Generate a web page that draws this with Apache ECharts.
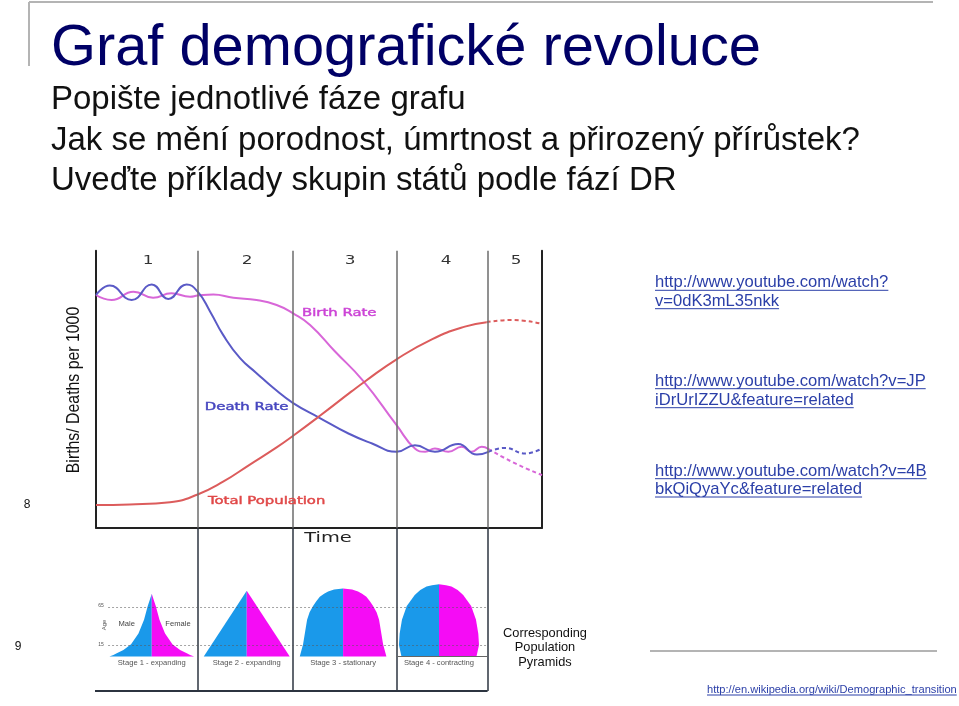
<!DOCTYPE html>
<html><head><meta charset="utf-8">
<script src="https://cdn.jsdelivr.net/npm/echarts@6/dist/echarts.min.js"></script>
<style>html,body{margin:0;padding:0;background:#fff}#c{width:959px;height:706px}</style>
</head><body><div id="c"></div>
<script>
// ---------- data (time 0..100, rate per 1000 0..50) ----------
const stageNames = ['1', '2', '3', '4', '5'];
const stageCenters = [11.7, 33.9, 57.0, 78.5, 94.2];
const stageBounds = [22.8, 44.2, 67.4, 87.8];

const timeBirth = [0, 3.5, 8.4, 12.8, 16.9, 21.1, 22.8, 26.3, 30.8, 36.0, 40.5, 44.2, 48.0, 53.6, 59.9, 67.4, 71.5, 73.8, 76.0, 79.0, 82.0, 84.2, 86.5, 88.0];
const birthRate = [42.0, 41.1, 42.6, 41.5, 42.3, 41.7, 41.9, 42.1, 41.5, 41.1, 40.2, 38.7, 36.6, 31.8, 26.5, 18.5, 14.3, 13.7, 14.3, 13.7, 14.6, 13.7, 14.6, 14.2];
const timeBirthProj = [88.0, 94.0, 100];
const birthRateProj = [14.2, 11.6, 9.5];

const timeDeath = [0, 3.1, 8.0, 12.5, 16.2, 20.3, 22.8, 25.6, 28.5, 32.3, 36.0, 39.8, 44.2, 50.2, 56.6, 61.9, 67.4, 71.5, 76.0, 81.2, 85.4, 88.0];
const deathRate = [42.0, 43.7, 41.1, 43.9, 41.3, 43.9, 42.6, 39.0, 34.8, 30.6, 27.9, 25.2, 22.5, 19.8, 17.0, 15.2, 13.7, 14.9, 13.7, 15.1, 13.2, 13.7];
const timeDeathProj = [88.0, 91.7, 96.2, 100];
const deathRateProj = [13.7, 14.4, 13.4, 14.3];

const timePop = [0, 7.6, 16.6, 22.8, 28.5, 34.5, 40.5, 44.2, 50.2, 57.3, 60.3, 67.4, 75.3, 82.7, 87.6];
const population = [4.1, 4.2, 4.6, 6.0, 8.3, 11.4, 14.5, 16.6, 20.2, 24.6, 26.4, 30.4, 34.0, 36.3, 37.1];
const timePopProj = [87.6, 93.2, 100];
const populationProj = [37.1, 37.5, 36.8];

const curveLabels = ['Birth Rate', 'Death Rate', 'Total Population'];
const curveLabelX = [46.2, 24.4, 25.1];
const curveLabelY = [38.75, 21.7, 4.8];

const pyramidStages = ['Stage 1 - expanding', 'Stage 2 - expanding', 'Stage 3 - stationary', 'Stage 4 - contracting'];
const pyramidCenters = [12.5, 33.8, 55.4, 76.9];
const pyramidAges = [
  [0, 2.2, 4.4, 8.7, 16, 30, 48, 66, 74, 82],
  [0, 86],
  [0, 16, 32, 48, 58, 66, 72, 78, 82, 85, 87.5, 89],
  [0, 15, 30, 48, 66, 80.5, 87, 91.4, 93.3, 94.4]
];
const pyramidHalfWidth = [
  [9.5, 8.6, 7.85, 6.35, 4.64, 2.98, 1.73, 0.9, 0.45, 0],
  [9.64, 0],
  [9.71, 8.97, 8.52, 8.07, 7.51, 6.73, 6.05, 5.22, 4.26, 3.36, 2.02, 0],
  [8.41, 8.97, 8.81, 8.30, 7.22, 5.43, 4.19, 2.80, 1.57, 0]
];
const ageGuides = [15, 65];

const titleText = 'Graf demografické revoluce';
const questions = ['Popište jednotlivé fáze grafu', 'Jak se mění porodnost, úmrtnost a přirozený přírůstek?', 'Uveďte příklady skupin států podle fází DR'];
const links = [
  ['http://www.youtube.com/watch?', 'v=0dK3mL35nkk'],
  ['http://www.youtube.com/watch?v=JP', 'iDrUrIZZU&feature=related'],
  ['http://www.youtube.com/watch?v=4B', 'bkQiQyaYc&feature=related']
];
const wikiLink = 'http://en.wikipedia.org/wiki/Demographic_transition';

// ---------- helpers ----------
const zip = (a, b) => a.map((v, i) => [v, b[i]]);
const mctx = document.createElement('canvas').getContext('2d');
function tw(text, font) { mctx.font = font; return mctx.measureText(text).width; }

const C_BIRTH = '#d867d8', C_DEATH = '#5a5ac6', C_POP = '#dc5c5c';
const labelColors = ['#cc44d6', '#4646bf', '#e04848'];
const SANS = '"Liberation Sans", Arial, sans-serif';
const VERD = '"DejaVu Sans", Verdana, sans-serif';

// ---------- graphic (slide texts) ----------
const g = [];
g.push({ type: 'line', shape: { x1: 29, y1: 2, x2: 933, y2: 2 }, style: { stroke: '#b4b4b4', lineWidth: 2 } });
g.push({ type: 'line', shape: { x1: 29, y1: 2, x2: 29, y2: 66 }, style: { stroke: '#b4b4b4', lineWidth: 2 } });
g.push({ type: 'text', x: 51, y: 68.8 - 0.3465 * 57.8, style: { text: titleText, font: '57.8px ' + SANS, fill: '#000066', align: 'left', verticalAlign: 'middle' } });
const qBase = [111.5, 152.3, 192.5];
questions.forEach((q, i) => {
  g.push({ type: 'text', x: 51, y: qBase[i] - 0.3465 * 33, style: { text: q, font: '33px ' + SANS, fill: '#111111', align: 'left', verticalAlign: 'middle' } });
});
const linkBase = [[288.3, 306.7], [386.7, 405.7], [476.7, 495]];
const LF = '16.6px ' + SANS;
links.forEach((pair, i) => {
  pair.forEach((t, j) => {
    const b = linkBase[i][j];
    g.push({ type: 'text', x: 655, y: b - 0.3465 * 16.6, style: { text: t, font: LF, fill: '#2b3fa8', align: 'left', verticalAlign: 'middle' } });
    g.push({ type: 'line', shape: { x1: 655, y1: b + 2, x2: 655 + tw(t, LF), y2: b + 2 }, style: { stroke: '#2b3fa8', lineWidth: 1 } });
  });
});
g.push({ type: 'line', shape: { x1: 650, y1: 651, x2: 937, y2: 651 }, style: { stroke: '#b4b4b4', lineWidth: 2 } });
const WF = '11.1px ' + SANS;
g.push({ type: 'text', x: 707, y: 693.3 - 0.3465 * 11.1, style: { text: wikiLink, font: WF, fill: '#2b3fa8', align: 'left', verticalAlign: 'middle' } });
g.push({ type: 'line', shape: { x1: 707, y1: 695, x2: 707 + tw(wikiLink, WF), y2: 695 }, style: { stroke: '#2b3fa8', lineWidth: 1 } });
g.push({ type: 'text', x: 27, y: 505, style: { text: '8', font: '12px ' + SANS, fill: '#111', align: 'center', verticalAlign: 'middle' } });
g.push({ type: 'text', x: 18, y: 647, style: { text: '9', font: '12px ' + SANS, fill: '#111', align: 'center', verticalAlign: 'middle' } });
// axis name
g.push({ type: 'text', x: 74.5, y: 390, rotation: Math.PI / 2, scaleX: 0.88, style: { text: 'Births/ Deaths per 1000', font: '18px ' + SANS, fill: '#111', align: 'center', verticalAlign: 'middle' } });
g.push({ type: 'text', x: 328, y: 538, scaleX: 1.33, style: { text: 'Time', font: '14.6px ' + VERD, fill: '#222', align: 'center', verticalAlign: 'middle' } });
g.push({ type: 'text', x: 545, y: 647.7, style: { text: 'Corresponding\nPopulation\nPyramids', font: '12.8px ' + SANS, lineHeight: 14.5, fill: '#111', align: 'center', verticalAlign: 'middle' } });
g.push({ type: 'text', x: 126.7, y: 624.3, style: { text: 'Male', font: '7.6px ' + SANS, fill: '#444', align: 'center', verticalAlign: 'middle' } });
g.push({ type: 'text', x: 178, y: 624.3, style: { text: 'Female', font: '7.6px ' + SANS, fill: '#444', align: 'center', verticalAlign: 'middle' } });
g.push({ type: 'text', x: 104, y: 625, rotation: Math.PI / 2, style: { text: 'Age', font: '6px ' + SANS, fill: '#555', align: 'center', verticalAlign: 'middle' } });
g.push({ type: 'text', x: 101, y: 606, style: { text: '65', font: '5px ' + SANS, fill: '#555', align: 'center', verticalAlign: 'middle' } });
g.push({ type: 'text', x: 101, y: 644.3, style: { text: '15', font: '5px ' + SANS, fill: '#555', align: 'center', verticalAlign: 'middle' } });

// ---------- chart ----------
const chart = echarts.init(document.getElementById('c'), null, { renderer: 'canvas' });
const noAxis = { axisLabel: { show: false }, axisTick: { show: false }, splitLine: { show: false } };
const option = {
  animation: false,
  backgroundColor: '#ffffff',
  grid: [
    { left: 96, top: 250.7, width: 446, height: 277, outerBoundsMode: 'none', containLabel: false },
    { left: 96, top: 528, width: 446, height: 163, outerBoundsMode: 'none', containLabel: false }
  ],
  xAxis: [
    Object.assign({ type: 'value', gridIndex: 0, min: 0, max: 100, axisLine: { show: true, onZero: false, lineStyle: { color: '#222', width: 2 } } }, noAxis),
    Object.assign({ type: 'value', gridIndex: 1, min: 0, max: 100, show: false }, noAxis)
  ],
  yAxis: [
    Object.assign({ type: 'value', gridIndex: 0, min: 0, max: 50, axisLine: { show: true, onZero: false, lineStyle: { color: '#222', width: 2 } } }, noAxis),
    Object.assign({ type: 'value', gridIndex: 0, min: 0, max: 50, position: 'right', axisLine: { show: true, onZero: false, lineStyle: { color: '#222', width: 2 } } }, noAxis),
    Object.assign({ type: 'value', gridIndex: 1, min: -45, max: 168, show: false }, noAxis)
  ],
  graphic: { elements: g },
  series: [
    {
      type: 'line', name: 'Birth Rate', xAxisIndex: 0, yAxisIndex: 0, data: zip(timeBirth, birthRate),
      smooth: 0.5, symbol: 'none', lineStyle: { color: C_BIRTH, width: 2 }, z: 4, silent: true,
      markLine: {
        silent: true, symbol: ['none', 'none'], label: { show: false }, animation: false,
        lineStyle: { color: '#6d6d6d', width: 1.5, type: 'solid' },
        data: stageBounds.map(v => ({ xAxis: v }))
      }
    },
    { type: 'line', xAxisIndex: 0, yAxisIndex: 0, data: zip(timeBirthProj, birthRateProj), smooth: 0.5, symbol: 'none', lineStyle: { color: C_BIRTH, width: 2, type: [4, 3] }, z: 4, silent: true },
    { type: 'line', name: 'Death Rate', xAxisIndex: 0, yAxisIndex: 0, data: zip(timeDeath, deathRate), smooth: 0.5, symbol: 'none', lineStyle: { color: C_DEATH, width: 2 }, z: 4, silent: true },
    { type: 'line', xAxisIndex: 0, yAxisIndex: 0, data: zip(timeDeathProj, deathRateProj), smooth: 0.5, symbol: 'none', lineStyle: { color: C_DEATH, width: 2, type: [4, 3] }, z: 4, silent: true },
    { type: 'line', name: 'Total Population', xAxisIndex: 0, yAxisIndex: 0, data: zip(timePop, population), smooth: 0.5, symbol: 'none', lineStyle: { color: C_POP, width: 2 }, z: 4, silent: true },
    { type: 'line', xAxisIndex: 0, yAxisIndex: 0, data: zip(timePopProj, populationProj), smooth: 0.5, symbol: 'none', lineStyle: { color: C_POP, width: 2, type: [4, 3] }, z: 4, silent: true },
    {
      type: 'custom', xAxisIndex: 0, yAxisIndex: 0, silent: true, z: 6, clip: false,
      data: curveLabels.map((n, i) => [curveLabelX[i], curveLabelY[i], i]),
      renderItem: (p, api) => {
        const i = api.value(2); const pt = api.coord([api.value(0), api.value(1)]);
        return { type: 'text', x: pt[0], y: pt[1], scaleX: 1.35, style: { text: curveLabels[i], fill: labelColors[i], stroke: labelColors[i], lineWidth: 0.45, font: '11px ' + VERD, align: 'left', verticalAlign: 'middle' } };
      }
    },
    {
      type: 'custom', xAxisIndex: 0, yAxisIndex: 0, silent: true, z: 6, clip: false,
      data: stageNames.map((n, i) => [stageCenters[i], 48.1, i]),
      renderItem: (p, api) => {
        const i = api.value(2); const pt = api.coord([api.value(0), api.value(1)]);
        return { type: 'text', x: pt[0], y: pt[1], scaleX: 1.37, style: { text: stageNames[i], fill: '#333', font: '12.3px ' + VERD, align: 'center', verticalAlign: 'middle' } };
      }
    },
    {
      type: 'custom', xAxisIndex: 1, yAxisIndex: 2, silent: true, z: 3, clip: false,
      data: pyramidCenters.map((c, i) => [c, 0, i]),
      renderItem: (p, api) => {
        const i = api.value(2), c = pyramidCenters[i];
        const ages = pyramidAges[i], hw = pyramidHalfWidth[i];
        const left = [api.coord([c, 0])], right = [api.coord([c, 0])];
        ages.forEach((a, k) => { left.push(api.coord([c - hw[k], a])); right.push(api.coord([c + hw[k], a])); });
        const lp = api.coord([c, -8]);
        return {
          type: 'group', children: [
            { type: 'polygon', shape: { points: left }, style: { fill: '#1a99ea' } },
            { type: 'polygon', shape: { points: right }, style: { fill: '#f50cf5' } },
            { type: 'text', x: lp[0], y: lp[1], style: { text: pyramidStages[i], font: '7.6px ' + SANS, fill: '#555', align: 'center', verticalAlign: 'middle' } }
          ]
        };
      }
    },
    {
      type: 'line', xAxisIndex: 1, yAxisIndex: 2, data: [[-1.8, -45], [87.8, -45]], symbol: 'none', clip: false, silent: true, z: 5,
      lineStyle: { color: '#2c3440', width: 2 },
      markLine: {
        silent: true, symbol: ['none', 'none'], label: { show: false }, animation: false,
        lineStyle: { color: '#2c3440', width: 1.5, type: 'solid' },
        data: stageBounds.map(v => ({ xAxis: v })).concat(
          ageGuides.map(a => [{ coord: [2.7, a], lineStyle: { color: 'rgba(90,90,90,0.55)', width: 1, type: [2, 2] } }, { coord: [87.7, a] }]),
          [[{ coord: [67.4, 0], lineStyle: { color: '#666', width: 1, type: 'solid' } }, { coord: [87.8, 0] }]]
        )
      }
    }
  ]
};
chart.setOption(option);
</script></body></html>
